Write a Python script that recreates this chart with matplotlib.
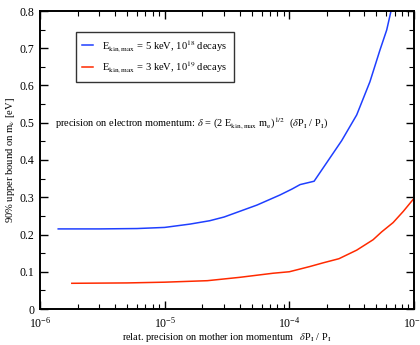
import matplotlib
matplotlib.use("Agg")
import matplotlib.pyplot as plt
from matplotlib.ticker import LogLocator, MultipleLocator, NullFormatter, FuncFormatter
import numpy as np

plt.rcParams['font.family'] = ['Liberation Serif', 'DejaVu Serif']
plt.rcParams['mathtext.fontset'] = 'stix'

# data
blue_x = [1.4e-6, 3e-6, 6e-6, 1e-5, 1.6e-5, 2.3e-5, 3e-5, 5.5e-5, 8.4e-5, 1.05e-4,
          1.22e-4, 1.58e-4, 2.63e-4, 3.47e-4, 4.43e-4, 5.33e-4, 6.04e-4, 6.54e-4, 7.2e-4]
blue_y = [0.215, 0.215, 0.216, 0.219, 0.228, 0.237, 0.247, 0.279, 0.306, 0.322,
          0.334, 0.343, 0.452, 0.521, 0.610, 0.695, 0.749, 0.800, 0.870]
red_x = [1.8e-6, 5e-6, 1e-5, 2.2e-5, 4e-5, 7.4e-5, 1e-4, 1.46e-4, 1.87e-4, 2.5e-4,
         3.47e-4, 4.7e-4, 5.5e-4, 6.8e-4, 8.2e-4, 1e-3]
red_y = [0.069, 0.070, 0.072, 0.076, 0.085, 0.096, 0.100, 0.114, 0.124, 0.135,
         0.158, 0.186, 0.207, 0.232, 0.262, 0.297]
labels = [r"E$_{\rm kin,max}$ = 5 keV, 10$^{18}$ decays",
          r"E$_{\rm kin,max}$ = 3 keV, 10$^{19}$ decays"]

fig = plt.figure(figsize=(4.2, 3.45), dpi=100)
ax = fig.add_axes([40/420, 1-309/345, 374/420, 298/345])

ax.plot(blue_x, blue_y, color='#1f3fff', lw=1.1, label=labels[0])
ax.plot(red_x, red_y, color='#ff2a00', lw=1.1, label=labels[1])

ax.set_xscale('log')
ax.set_xlim(1e-6, 1e-3)
ax.set_ylim(0, 0.8)
ax.yaxis.set_major_locator(MultipleLocator(0.1))
ax.yaxis.set_minor_locator(MultipleLocator(0.05))
ax.yaxis.set_major_formatter(FuncFormatter(lambda v, p: '0' if abs(v) < 1e-9 else f'{v:.1f}'))
ax.xaxis.set_major_locator(LogLocator(base=10, numticks=10))
ax.xaxis.set_minor_locator(LogLocator(base=10, subs=np.arange(2, 10), numticks=20))
ax.xaxis.set_minor_formatter(NullFormatter())

for s in ax.spines.values():
    s.set_linewidth(1.4)
ax.tick_params(which='both', direction='in', top=True, right=True, labelsize=8.5)
ax.tick_params(axis='x', which='both', pad=5)
ax.tick_params(axis='y', which='both', pad=4)
ax.tick_params(which='major', length=6, width=1.0)
ax.tick_params(which='minor', length=3.5, width=0.8)

ax.set_xlabel(r"relat. precision on mother ion momentum   $\delta$P$_{\rm I}$ / P$_{\rm I}$", fontsize=7.4, labelpad=0)
ax.set_ylabel(r"90% upper bound on m$_{\nu}$ [eV]", fontsize=7.6, labelpad=2)

ax.text(0.04, 0.622, r"precision on electron momentum: $\delta$ = (2 E$_{\rm kin,max}$ m$_{\rm e}$)$^{1/2}$  ($\delta$P$_{\rm I}$ / P$_{\rm I}$)",
        transform=ax.transAxes, fontsize=7.5, va='center', ha='left')

leg = ax.legend(loc='upper left', bbox_to_anchor=(0.096, 0.9305), fontsize=7.6, frameon=True,
                fancybox=False, edgecolor='black', handlelength=1.0, borderpad=0.6,
                labelspacing=0.6, handletextpad=0.9, borderaxespad=0)
leg.get_frame().set_linewidth(1.0)

fig.savefig('out.png', dpi=100)
